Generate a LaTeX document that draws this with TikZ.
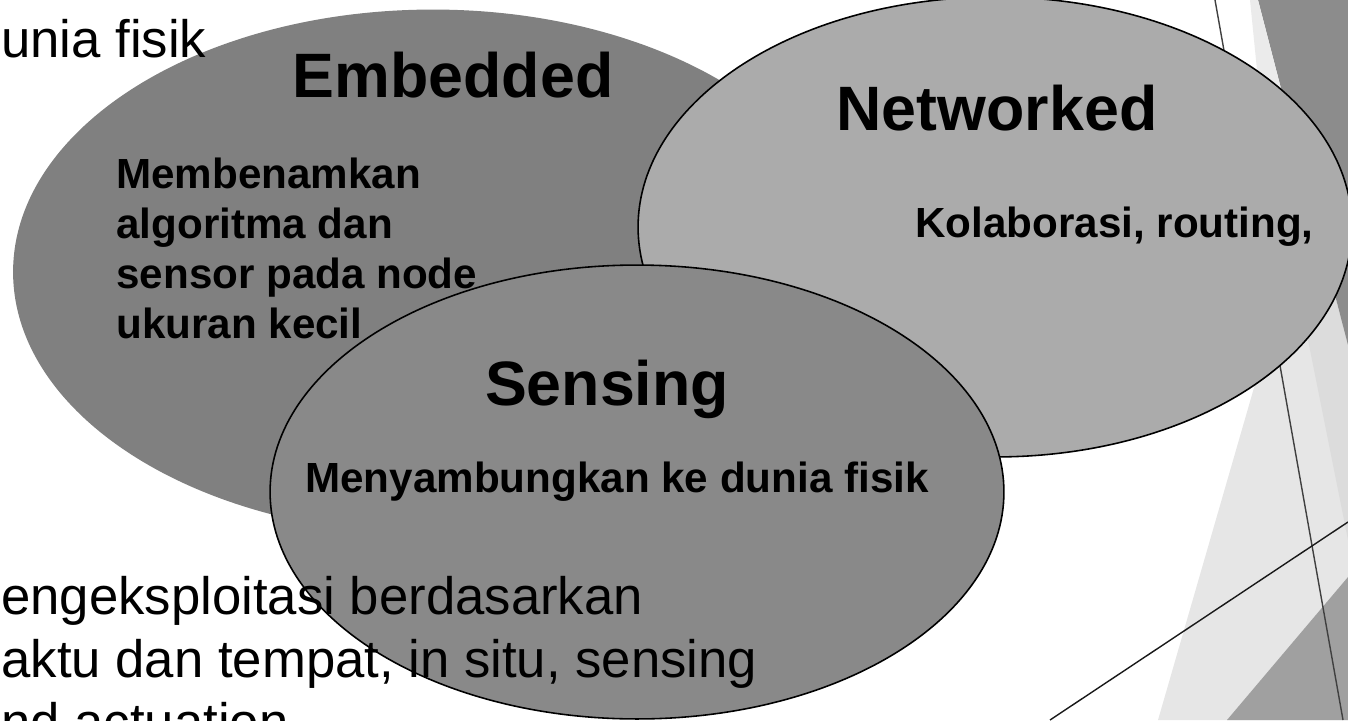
\documentclass[tikz,border=0pt]{standalone}
\usepackage{fontspec}
\setmainfont{Liberation Sans}
\usepackage{tikz}
\usetikzlibrary{shapes.geometric, positioning}

\definecolor{embgray}{HTML}{808080}
\definecolor{netgray}{HTML}{ABABAB}
\definecolor{sengray}{HTML}{898989}
\definecolor{facetA}{HTML}{E6E6E6}
\definecolor{facetB}{HTML}{DCDCDC}
\definecolor{facetC}{HTML}{8C8C8C}
\definecolor{facetD}{HTML}{EBEBEB}
\definecolor{facetE}{HTML}{A0A0A0}

\begin{document}
\begin{tikzpicture}[x=0.02cm,y=-0.02cm,
    blob/.style={ellipse,inner sep=0pt,line width=0.9pt},
    title/.style={font=\bfseries\fontsize{35.7}{43}\selectfont,anchor=base,inner sep=0pt},
    body/.style={font=\bfseries\fontsize{24}{28.5}\selectfont,anchor=base west,inner sep=0pt},
    back/.style={font=\fontsize{30}{36}\selectfont,anchor=base west,inner sep=0pt}]
   \useasboundingbox (0,0) rectangle (1348,720);
   \clip (0,0) rectangle (1348,720);
   % slide decoration on the right
   \fill[facetA] (1158,720) -- (1275,315) -- (1348,315) -- (1348,720) -- cycle;
   \fill[facetB] (1290,250) -- (1323,250) -- (1348,345) -- (1348,540) -- cycle;
   \fill[facetC] (1258,0) -- (1348,0) -- (1348,345) -- cycle;
   \fill[facetD] (1250,0) -- (1258,0) -- (1289,120) -- (1262,120) -- cycle;
   \fill[facetE] (1227,720) -- (1348,577) -- (1348,720) -- cycle;
   \coordinate (r1) at (1215,0);
   \coordinate (r2) at (1343,720);
   \coordinate (s1) at (1050,720);
   \coordinate (s2) at (1348,522);
   \draw[black!75,line width=0.8pt] (r1) -- (r2);
   \draw[black!90,line width=0.8pt] (s1) -- (s2);
   % the three ellipses
   \node[blob,fill=embgray,minimum width=16.8cm,minimum height=10.5cm] (emb) at (433,272) {};
   \node[blob,draw,fill=netgray,minimum width=14.28cm,minimum height=9.2cm] (net) at (995,227) {};
   \node[blob,draw,fill=sengray,minimum width=14.68cm,minimum height=9.08cm] (sen) at (637,492) {};
   % labels
   \node[title] (embt) at (453,97) {Embedded};
   \node[title] (nett) at (997,130) {Networked};
   \node[title] (sent) at (607,405) {Sensing};
   \foreach \txt [count=\i] in {Membenamkan, algoritma dan, sensor pada node, ukuran kecil}
      \node[body] (embb\i) at (116,138+50*\i) {\txt};
   \node[body] (netb) at (915,237) {Kolaborasi, routing,};
   \node[body] (senb) at (305,492) {Menyambungkan ke dunia fisik};
   % slide text behind
   \node[back] (top) at (1,57) {unia fisik};
   \foreach \txt [count=\i] in {engeksploitasi berdasarkan, {aktu dan tempat, in situ, sensing}, nd actuation}
      \node[back] (bot\i) at (1,551+63*\i) {\txt};
\end{tikzpicture}
\end{document}
